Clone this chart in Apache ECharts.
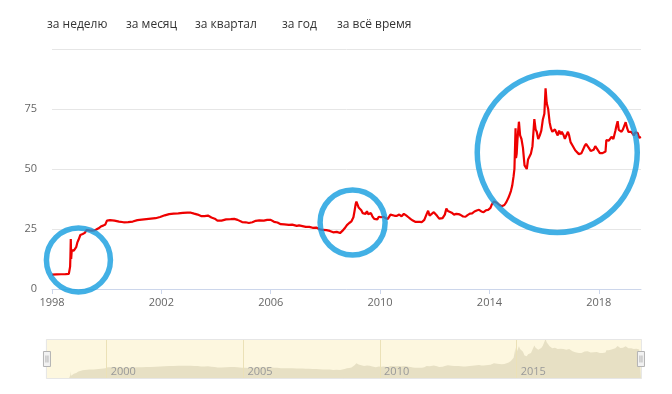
<!DOCTYPE html>
<html><head><meta charset="utf-8">
<script src="https://cdn.jsdelivr.net/npm/echarts@6/dist/echarts.min.js"></script>
<style>html,body{margin:0;padding:0;background:#fff}#c{width:672px;height:394px}</style>
</head><body><div id="c"></div>
<script>
const rangeButtons = ['за неделю', 'за месяц', 'за квартал', 'за год', 'за всё время'];
const mainTickYears = [1998, 2002, 2006, 2010, 2014, 2018];
const navTickYears = [2000, 2005, 2010, 2015];
const yMin = 0, yMax = 100, yStep = 25;

const dates = [
'1998-01-01','1998-03-01','1998-05-01','1998-07-01','1998-08-14','1998-08-24','1998-08-31','1998-09-04','1998-09-09','1998-09-14','1998-09-22','1998-10-05','1998-10-20','1998-11-05','1998-11-20','1998-12-05','1998-12-20',
'1999-01-15','1999-02-15','1999-03-15','1999-04-10','1999-05-15','1999-06-15','1999-07-15','1999-08-15','1999-09-15','1999-10-15','1999-11-15','1999-12-15',
'2000-01-05','2000-01-15','2000-02-15','2000-04-15','2000-06-15','2000-08-15','2000-10-15','2000-12-15',
'2001-02-15','2001-04-15','2001-06-15','2001-08-15','2001-10-15','2001-12-15',
'2002-02-15','2002-04-15','2002-06-15','2002-08-15','2002-10-15','2002-12-15',
'2003-02-01','2003-03-15','2003-05-01','2003-06-15','2003-08-01','2003-09-15','2003-11-01','2003-12-15',
'2004-01-20','2004-03-15','2004-05-15','2004-07-15','2004-09-01','2004-10-15','2004-12-15',
'2005-02-01','2005-03-15','2005-05-01','2005-06-15','2005-08-01','2005-10-01','2005-11-15',
'2006-01-01','2006-02-15','2006-04-01','2006-05-15','2006-07-01','2006-09-01','2006-10-15','2006-12-15',
'2007-01-15','2007-03-01','2007-04-15','2007-06-01','2007-07-15','2007-09-01','2007-10-15','2007-12-01',
'2008-01-15','2008-03-01','2008-04-15','2008-06-01','2008-07-15','2008-08-15','2008-09-15','2008-10-15','2008-11-15','2008-12-15',
'2009-01-10','2009-01-25','2009-02-10','2009-02-19','2009-03-05','2009-03-20','2009-04-10','2009-04-25','2009-05-15','2009-06-01','2009-06-20','2009-07-10','2009-07-25','2009-08-15','2009-09-01','2009-09-20','2009-10-15','2009-11-05','2009-11-25','2009-12-15',
'2010-01-15','2010-02-15','2010-03-15','2010-04-15','2010-05-20','2010-06-10','2010-07-15','2010-08-15','2010-09-15','2010-10-15','2010-11-15','2010-12-15',
'2011-01-15','2011-02-15','2011-03-15','2011-04-15','2011-05-15','2011-06-15','2011-07-15','2011-08-15','2011-09-15','2011-10-05','2011-10-25','2011-11-15','2011-12-20',
'2012-01-10','2012-02-01','2012-03-01','2012-04-15','2012-05-15','2012-06-05','2012-06-25','2012-07-15','2012-08-15','2012-09-15','2012-10-15','2012-11-15','2012-12-15',
'2013-01-15','2013-02-15','2013-03-15','2013-04-15','2013-05-15','2013-06-15','2013-07-15','2013-08-15','2013-09-15','2013-10-15','2013-11-15','2013-12-15',
'2014-01-15','2014-02-01','2014-03-03','2014-03-20','2014-04-15','2014-05-15','2014-06-15','2014-07-01','2014-07-20','2014-08-15','2014-09-15','2014-10-15','2014-11-01','2014-11-20','2014-12-01','2014-12-16','2014-12-22','2014-12-31',
'2015-01-10','2015-01-30','2015-02-15','2015-03-05','2015-03-25','2015-04-15','2015-05-01','2015-05-15','2015-06-01','2015-06-20','2015-07-10','2015-07-30','2015-08-24','2015-09-10','2015-09-25','2015-10-15','2015-11-05','2015-11-25','2015-12-15',
'2016-01-05','2016-01-21','2016-02-05','2016-02-25','2016-03-15','2016-04-01','2016-04-20','2016-05-10','2016-05-25','2016-06-15','2016-07-01','2016-07-20','2016-08-10','2016-08-25','2016-09-15','2016-10-05','2016-10-25','2016-11-15','2016-12-01','2016-12-20',
'2017-01-15','2017-02-01','2017-02-20','2017-03-15','2017-04-10','2017-04-25','2017-05-15','2017-06-05','2017-06-25','2017-07-15','2017-08-05','2017-08-25','2017-09-15','2017-10-05','2017-10-25','2017-11-15','2017-12-05','2017-12-25',
'2018-01-15','2018-02-01','2018-02-20','2018-03-15','2018-04-01','2018-04-12','2018-04-25','2018-05-15','2018-06-01','2018-06-20','2018-07-15','2018-08-10','2018-08-25','2018-09-10','2018-09-25','2018-10-15','2018-11-01','2018-11-20','2018-12-10','2018-12-26',
'2019-01-15','2019-02-01','2019-02-20','2019-03-10','2019-03-28','2019-04-15','2019-05-05','2019-05-20','2019-06-05','2019-06-25','2019-07-10','2019-07-19'
];
const rates = [
5.96,6.09,6.15,6.21,6.29,7.1,9.3,13.5,20.8,12.5,16.2,15.6,16.0,16.6,17.4,19.3,20.4,
22.5,22.9,23.4,24.6,24.4,24.3,24.4,24.8,25.3,26.0,26.4,26.9,
28.5,28.9,28.7,28.5,28.1,27.8,27.9,28.1,
28.7,28.9,29.1,29.3,29.5,30.0,
30.7,31.2,31.4,31.5,31.7,31.8,
31.8,31.4,31.0,30.4,30.4,30.6,29.8,29.3,
28.5,28.5,29.0,29.1,29.2,28.8,27.9,
27.8,27.5,27.8,28.4,28.6,28.5,28.8,
28.8,28.0,27.7,27.0,26.9,26.7,26.8,26.3,
26.5,26.2,25.9,25.9,25.5,25.6,24.9,24.6,
24.5,24.2,23.6,23.8,23.3,24.2,25.3,26.6,27.5,28.2,
29.9,32.5,35.5,36.4,35.6,34.0,33.7,32.8,31.6,31.0,31.3,32.4,31.2,31.8,31.6,30.3,29.2,28.8,29.0,30.1,
29.9,30.1,29.5,29.2,31.0,31.3,30.5,30.5,31.0,30.3,31.3,30.7,
29.9,29.1,28.5,28.0,28.0,28.0,27.9,28.8,31.2,32.6,30.6,31.0,32.0,
32.0,30.5,29.3,29.5,31.0,33.5,32.5,32.5,31.8,31.0,31.3,31.2,30.8,
30.2,30.1,30.8,31.4,31.5,32.3,32.7,33.0,32.3,32.0,32.8,33.0,
33.8,35.2,36.5,35.7,35.8,35.0,34.5,33.9,35.0,36.2,38.2,40.8,43.0,47.0,50.0,67.0,54.5,56.3,
62.0,69.7,64.0,62.5,58.8,51.5,50.8,50.0,54.0,54.7,56.5,59.5,70.8,66.5,65.5,62.5,64.0,66.0,70.5,
73.0,83.6,77.5,75.0,69.5,67.0,65.5,64.7,66.5,65.0,64.0,66.0,64.5,65.5,64.3,62.6,62.8,65.5,64.0,61.2,
59.8,60.5,57.8,57.5,56.2,56.8,56.6,57.0,59.5,60.5,59.8,58.6,57.5,57.8,58.0,59.5,58.6,57.8,
56.6,56.3,56.6,57.1,57.3,62.0,61.4,61.8,62.3,63.4,62.5,65.8,68.0,69.9,66.3,66.0,65.5,66.5,66.8,69.5,
67.0,65.5,65.8,65.5,64.8,64.0,65.3,64.5,65.0,63.0,63.6,63.3
];
// annotation circles (centre date / value), drawn over the chart
const circleDates = ['1998-12-20', '2008-12-30', '2016-06-25'];
const circleValues = [12.1, 27.7, 56.9];

const ts = s => Date.parse(s);
const lineData = dates.map((d, i) => [ts(d), rates[i]]);
const xMin = ts(dates[0]);
const xMax = ts(dates[dates.length - 1]);
const yearTs = y => Date.UTC(y, 0, 1);
const circleSizes = [64, 65, 160];
const circleData = circleDates.map((d, i) => ({ value: [ts(d), circleValues[i]], symbolSize: circleSizes[i] }));

const FONT = '"Open Sans", "DejaVu Sans", sans-serif';
const buttonX = [47, 126, 195, 282, 337];

const chart = echarts.init(document.getElementById('c'), null, { renderer: 'canvas' });
chart.setOption({
  animation: false,
  backgroundColor: '#fff',
  textStyle: { fontFamily: FONT },
  graphic: rangeButtons.map((t, i) => ({
    type: 'text', x: buttonX[i], y: 25, silent: true,
    style: { text: t, fill: '#333', font: '12px ' + FONT, verticalAlign: 'middle' }
  })),
  grid: [
    { left: 52, right: 31, top: 49, bottom: 105 },
    { left: 52, right: 31, top: 339, height: 40 }
  ],
  xAxis: [
    {
      gridIndex: 0, type: 'value', min: xMin, max: xMax,
      axisLine: { lineStyle: { color: '#ccd6eb' } },
      axisTick: { length: 5, lineStyle: { color: '#ccd6eb' }, customValues: mainTickYears.map(yearTs) },
      axisLabel: {
        color: '#666', fontSize: 11, margin: 8, fontFamily: FONT,
        customValues: mainTickYears.map(yearTs),
        formatter: v => String(new Date(v).getUTCFullYear())
      },
      splitLine: { show: false }
    },
    {
      gridIndex: 1, type: 'value', min: xMin, max: xMax, z: 4,
      axisLine: { show: false },
      axisTick: { show: false, customValues: navTickYears.map(yearTs) },
      axisLabel: {
        inside: true, color: '#999', fontSize: 11, margin: 2, align: 'left', padding: [0, 0, 0, 4],
        fontFamily: FONT,
        customValues: navTickYears.map(yearTs),
        formatter: v => String(new Date(v).getUTCFullYear())
      },
      splitLine: { show: true, lineStyle: { color: '#e6e0c6', width: 1 } }
    }
  ],
  yAxis: [
    {
      gridIndex: 0, type: 'value', min: yMin, max: yMax, interval: yStep,
      axisLine: { show: false }, axisTick: { show: false },
      axisLabel: { color: '#666', fontSize: 11, margin: 15, fontFamily: FONT, formatter: v => v === yMax ? '' : String(v) },
      splitLine: { lineStyle: { color: '#e6e6e6' } }
    },
    { gridIndex: 1, type: 'value', min: 'dataMin', max: 'dataMax', show: false, splitLine: { show: false } }
  ],
  dataZoom: [{
    type: 'slider', xAxisIndex: 1, filterMode: 'none', start: 0, end: 100,
    left: 45, right: 31, top: 339, height: 40,
    backgroundColor: 'rgba(0,0,0,0)', fillerColor: 'rgba(250,230,150,0.3)',
    borderColor: '#e6e6e6', showDataShadow: false, showDetail: false,
    moveHandleSize: 0, brushSelect: false, zoomLock: true,
    handleIcon: 'path://M0,0 L7,0 L7,15 L0,15 Z M2.5,4 L2.5,11 M4.5,4 L4.5,11',
    handleSize: 15,
    handleStyle: { color: '#f2f2f2', borderColor: '#b3b3b3', borderWidth: 1 },
    emphasis: { handleStyle: { color: '#f2f2f2', borderColor: '#b3b3b3' } }
  }],
  series: [
    {
      type: 'line', xAxisIndex: 0, yAxisIndex: 0, data: lineData,
      showSymbol: false, silent: true,
      lineStyle: { color: '#ee0000', width: 2.2 }, z: 2
    },
    {
      type: 'line', xAxisIndex: 1, yAxisIndex: 1, data: lineData,
      showSymbol: false, silent: true,
      lineStyle: { width: 0 }, areaStyle: { color: '#e0dfd8', opacity: 1 }
    },
    {
      type: 'scatter', xAxisIndex: 0, yAxisIndex: 0, data: circleData,
      symbol: 'circle', silent: true, z: 5,
      itemStyle: { color: 'rgba(0,0,0,0)', borderColor: '#139cdf', borderWidth: 5.5 }
    }
  ]
});
</script></body></html>
